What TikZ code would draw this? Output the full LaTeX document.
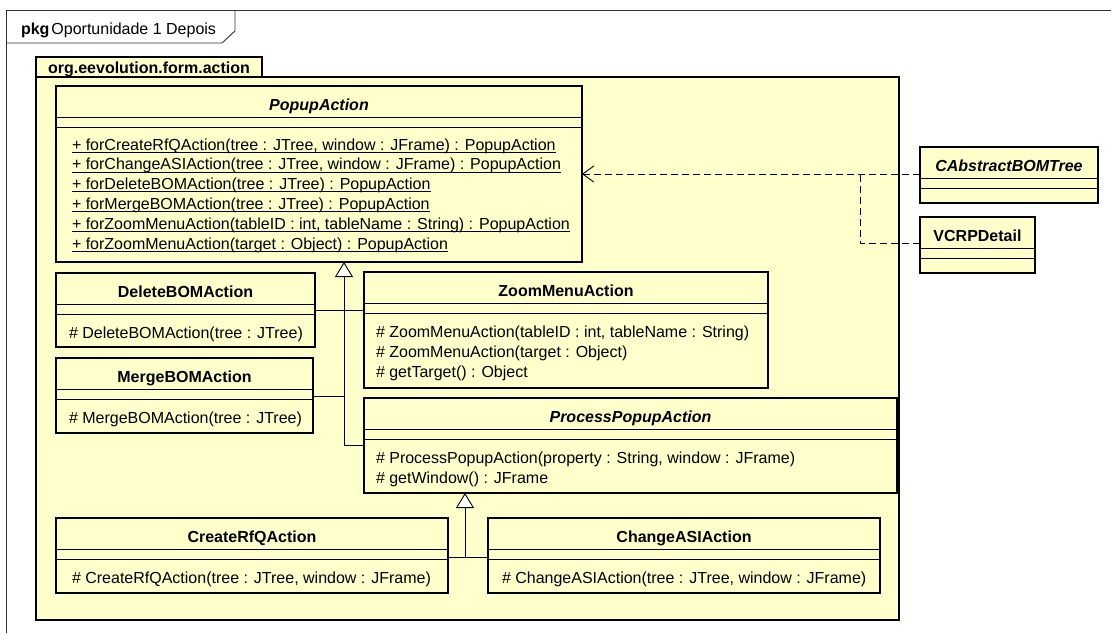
\documentclass[tikz,border=0pt]{standalone}
\usepackage{fontspec}
\setmainfont{Liberation Sans}
\usetikzlibrary{calc,arrows.meta}
\definecolor{umlfill}{RGB}{255,255,204}
\definecolor{framegray}{RGB}{50,50,50}

% underline for static operations, drawn just below the baseline
\newcommand\staticop[1]{\setbox0\hbox{#1}\rlap{\rule[-2.6pt]{\wd0}{0.9pt}}\box0}

\begin{document}
\begin{tikzpicture}[x=1pt,y=-1pt,
  every node/.style={inner sep=0pt, outer sep=0pt, font=\fontsize{16}{19}\selectfont},
  classbox/.style={draw, line width=1.8pt, fill=umlfill, rectangle, anchor=north west},
  pkgbox/.style={draw, line width=1.8pt, fill=umlfill, rectangle, anchor=north west},
  cname/.style={font=\fontsize{16}{19}\selectfont\bfseries, anchor=base},
  aname/.style={font=\fontsize{16}{19}\selectfont\bfseries\itshape, anchor=base},
  op/.style={anchor=base west},
  sep/.style={line width=0.9pt},
  gen/.style={line width=0.9pt},
  gentip/.style={-{Triangle[length=15pt, width=18pt, fill=white, line width=0.9pt]}},
  dep/.style={line width=0.9pt, dash pattern=on 7pt off 4pt,
    -{Straight Barb[length=11pt, width=16pt, line width=0.9pt]}},
  depline/.style={line width=0.9pt, dash pattern=on 7pt off 4pt},
]
\useasboundingbox (0,0) rectangle (1111,633);

% outer diagram frame
\draw[framegray, line width=0.9pt] (6,633) -- (6,10) -- (1111,10);
\draw[framegray, line width=0.9pt] (6,43) -- (222,43) -- (235,31) -- (235,10);
\node[anchor=base west] (frametitle) at (21,34) {\textbf{pkg}\hspace{2pt}Oportunidade 1 Depois};

% package org.eevolution.form.action
\node[pkgbox, minimum width=226, minimum height=20] (pkgtab) at (36,57) {};
\node[pkgbox, minimum width=863, minimum height=543] (pkg) at (36,77) {};
\node[cname] (pkgname) at ($(pkgtab.north)+(0,16)$) {org.eevolution.form.action};

% PopupAction
\node[classbox, minimum width=526, minimum height=176] (pa) at (56,86) {};
\node[aname] (pa-n) at ($(pa.north)+(0,24)$) {PopupAction};
\draw[sep] ($(pa.north west)+(0,31)$) -- ($(pa.north east)+(0,31)$);
\draw[sep] ($(pa.north west)+(0,41)$) -- ($(pa.north east)+(0,41)$);
\node[op] (pa-m1) at (72,150) {\staticop{+ forCreateRfQAction(tree : JTree, window : JFrame) : PopupAction}};
\node[op] (pa-m2) at (72,169.8) {\staticop{+ forChangeASIAction(tree : JTree, window : JFrame) : PopupAction}};
\node[op] (pa-m3) at (72,189.6) {\staticop{+ forDeleteBOMAction(tree : JTree) : PopupAction}};
\node[op] (pa-m4) at (72,209.4) {\staticop{+ forMergeBOMAction(tree : JTree) : PopupAction}};
\node[op] (pa-m5) at (72,229.2) {\staticop{+ forZoomMenuAction(tableID : int, tableName : String) : PopupAction}};
\node[op] (pa-m6) at (72,249) {\staticop{+ forZoomMenuAction(target : Object) : PopupAction}};

% DeleteBOMAction
\node[classbox, minimum width=259, minimum height=74] (db) at (56,273) {};
\node[cname] (db-n) at ($(db.north)+(0,24)$) {DeleteBOMAction};
\draw[sep] ($(db.north west)+(0,31)$) -- ($(db.north east)+(0,31)$);
\draw[sep] ($(db.north west)+(0,41)$) -- ($(db.north east)+(0,41)$);
\node[op] (db-m1) at (69,338) {\# DeleteBOMAction(tree : JTree)};

% MergeBOMAction
\node[classbox, minimum width=257, minimum height=75] (mb) at (56,358) {};
\node[cname] (mb-n) at ($(mb.north)+(0,24)$) {MergeBOMAction};
\draw[sep] ($(mb.north west)+(0,31)$) -- ($(mb.north east)+(0,31)$);
\draw[sep] ($(mb.north west)+(0,41)$) -- ($(mb.north east)+(0,41)$);
\node[op] (mb-m1) at (69,423) {\# MergeBOMAction(tree : JTree)};

% ZoomMenuAction
\node[classbox, minimum width=404, minimum height=116] (zm) at (364,272) {};
\node[cname] (zm-n) at ($(zm.north)+(0,24)$) {ZoomMenuAction};
\draw[sep] ($(zm.north west)+(0,31)$) -- ($(zm.north east)+(0,31)$);
\draw[sep] ($(zm.north west)+(0,41)$) -- ($(zm.north east)+(0,41)$);
\node[op] (zm-m1) at (376,337) {\# ZoomMenuAction(tableID : int, tableName : String)};
\node[op] (zm-m2) at (376,357) {\# ZoomMenuAction(target : Object)};
\node[op] (zm-m3) at (376,377) {\# getTarget() : Object};

% ProcessPopupAction
\node[classbox, minimum width=533, minimum height=95] (pp) at (364,398) {};
\node[aname] (pp-n) at ($(pp.north)+(0,24)$) {ProcessPopupAction};
\draw[sep] ($(pp.north west)+(0,31)$) -- ($(pp.north east)+(0,31)$);
\draw[sep] ($(pp.north west)+(0,41)$) -- ($(pp.north east)+(0,41)$);
\node[op] (pp-m1) at (376,463) {\# ProcessPopupAction(property : String, window : JFrame)};
\node[op] (pp-m2) at (376,483) {\# getWindow() : JFrame};

% CreateRfQAction
\node[classbox, minimum width=392, minimum height=75] (cr) at (56,518) {};
\node[cname] (cr-n) at ($(cr.north)+(0,24)$) {CreateRfQAction};
\draw[sep] ($(cr.north west)+(0,31)$) -- ($(cr.north east)+(0,31)$);
\draw[sep] ($(cr.north west)+(0,41)$) -- ($(cr.north east)+(0,41)$);
\node[op] (cr-m1) at (72,583) {\# CreateRfQAction(tree : JTree, window : JFrame)};

% ChangeASIAction
\node[classbox, minimum width=392, minimum height=75] (ca) at (488,518) {};
\node[cname] (ca-n) at ($(ca.north)+(0,24)$) {ChangeASIAction};
\draw[sep] ($(ca.north west)+(0,31)$) -- ($(ca.north east)+(0,31)$);
\draw[sep] ($(ca.north west)+(0,41)$) -- ($(ca.north east)+(0,41)$);
\node[op] (ca-m1) at (502,583) {\# ChangeASIAction(tree : JTree, window : JFrame)};

% CAbstractBOMTree
\node[classbox, minimum width=178, minimum height=56] (cab) at (920,147) {};
\node[aname] (cab-n) at ($(cab.north)+(0,24)$) {CAbstractBOMTree};
\draw[sep] ($(cab.north west)+(0,31)$) -- ($(cab.north east)+(0,31)$);
\draw[sep] ($(cab.north west)+(0,41)$) -- ($(cab.north east)+(0,41)$);

% VCRPDetail
\node[classbox, minimum width=115, minimum height=56] (vc) at (920,217) {};
\node[cname] (vc-n) at ($(vc.north)+(0,24)$) {VCRPDetail};
\draw[sep] ($(vc.north west)+(0,31)$) -- ($(vc.north east)+(0,31)$);
\draw[sep] ($(vc.north west)+(0,41)$) -- ($(vc.north east)+(0,41)$);

% generalization to PopupAction
\coordinate (t1) at (344,445);
\coordinate (jd) at (344,310);
\coordinate (jm) at (344,396);
\draw[gen] (db.east |- jd) -- (zm.west |- jd);
\draw[gen] (mb.east |- jm) -- (jm);
\draw[gen, gentip] (pp.west |- t1) -- (t1) -- (t1 |- pa.south);

% generalization to ProcessPopupAction
\coordinate (t2) at (465,557);
\draw[gen] (cr.east |- t2) -- (ca.west |- t2);
\draw[gen, gentip] (t2) -- (t2 |- pp.south);

% dependencies on PopupAction
\coordinate (d1) at (860,174);
\coordinate (d2) at (860,243);
\draw[dep] (cab.west |- d1) -- (pa.east |- d1);
\draw[depline] (vc.west |- d2) -- (d2) -- (d1);
\end{tikzpicture}
\end{document}
